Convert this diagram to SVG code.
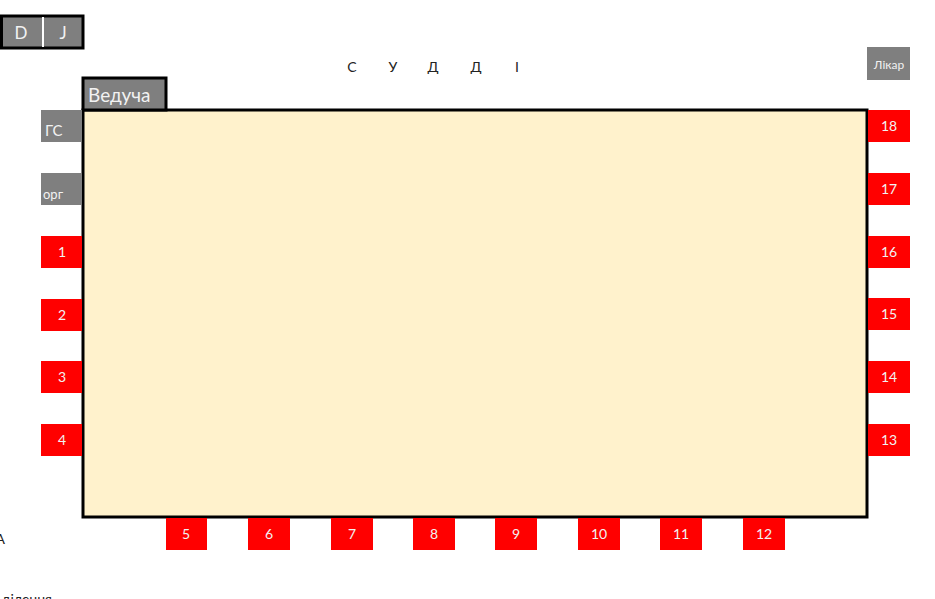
<svg xmlns="http://www.w3.org/2000/svg" width="935" height="599" viewBox="0 0 935 599">
<style>
text{font-family:Lato,"Open Sans","Liberation Sans",sans-serif}
.red{fill:#ff0000}
.gray{fill:#7f7f7f}
.num{fill:#f2f2f2;font-size:14px;text-anchor:middle}
.lbl{fill:#f2f2f2}
.ol{fill:none;stroke:#000;stroke-width:3}
.blk{fill:#222;font-size:14px}
</style>
<rect width="935" height="599" fill="#fff"/>
<g id="field">
<rect x="83" y="110" width="784" height="407" style="fill:#fff2cc;stroke:#000;stroke-width:3"/>
</g>
<g id="dj">
<rect x="1" y="16" width="82" height="32" class="gray"/>
<rect x="1.5" y="16" width="81.5" height="32" class="ol"/>
<line x1="43" y1="17" x2="43" y2="47" stroke="#fff" stroke-width="2"/>
<text x="21" y="39" class="lbl" font-size="17" text-anchor="middle">D</text>
<text x="63" y="39" class="lbl" font-size="17" text-anchor="middle">J</text>
</g>
<g id="vedycha">
<rect x="83" y="78" width="83" height="32" class="gray"/>
<rect x="83" y="78" width="83" height="32" class="ol"/>
<text x="88" y="102" class="lbl" font-size="19">Ведуча</text>
</g>
<g id="suddi">
<text x="352" y="72" class="blk" text-anchor="middle">С</text>
<text x="393" y="72" class="blk" text-anchor="middle">У</text>
<text x="433" y="72" class="blk" text-anchor="middle">Д</text>
<text x="476" y="72" class="blk" text-anchor="middle">Д</text>
<text x="517" y="72" class="blk" text-anchor="middle">І</text>
</g>
<g id="likar">
<rect x="867" y="47" width="43" height="33" class="gray"/>
<text x="889" y="69" class="lbl" font-size="12" text-anchor="middle">Лікар</text>
</g>
<g id="gs">
<rect x="41" y="110" width="41" height="32" class="gray"/>
<text x="45" y="136" class="lbl" font-size="15">ГС</text>
</g>
<g id="org">
<rect x="41" y="173" width="41" height="32" class="gray"/>
<text x="43" y="199" class="lbl" font-size="13">орг</text>
</g>
<g id="s1"><rect x="41" y="236" width="41" height="32" class="red"/><text x="62" y="257" class="num">1</text></g>
<g id="s2"><rect x="41" y="299" width="41" height="32" class="red"/><text x="62" y="320" class="num">2</text></g>
<g id="s3"><rect x="41" y="361" width="41" height="32" class="red"/><text x="62" y="382" class="num">3</text></g>
<g id="s4"><rect x="41" y="424" width="41" height="32" class="red"/><text x="62" y="445" class="num">4</text></g>
<g id="s5"><rect x="166" y="518" width="41" height="32" class="red"/><text x="186" y="539" class="num">5</text></g>
<g id="s6"><rect x="248" y="518" width="42" height="32" class="red"/><text x="269" y="539" class="num">6</text></g>
<g id="s7"><rect x="331" y="518" width="42" height="32" class="red"/><text x="352" y="539" class="num">7</text></g>
<g id="s8"><rect x="413" y="518" width="42" height="32" class="red"/><text x="434" y="539" class="num">8</text></g>
<g id="s9"><rect x="495" y="518" width="42" height="32" class="red"/><text x="516" y="539" class="num">9</text></g>
<g id="s10"><rect x="578" y="518" width="42" height="32" class="red"/><text x="599" y="539" class="num">10</text></g>
<g id="s11"><rect x="660" y="518" width="42" height="32" class="red"/><text x="681" y="539" class="num">11</text></g>
<g id="s12"><rect x="743" y="518" width="42" height="32" class="red"/><text x="764" y="539" class="num">12</text></g>
<g id="s13"><rect x="868" y="424" width="42" height="32" class="red"/><text x="889" y="445" class="num">13</text></g>
<g id="s14"><rect x="868" y="361" width="42" height="32" class="red"/><text x="889" y="382" class="num">14</text></g>
<g id="s15"><rect x="868" y="298" width="42" height="32" class="red"/><text x="889" y="319" class="num">15</text></g>
<g id="s16"><rect x="868" y="236" width="42" height="32" class="red"/><text x="889" y="257" class="num">16</text></g>
<g id="s17"><rect x="868" y="173" width="42" height="32" class="red"/><text x="889" y="194" class="num">17</text></g>
<g id="s18"><rect x="868" y="110" width="42" height="32" class="red"/><text x="889" y="131" class="num">18</text></g>
<g id="edge-text">
<text x="5" y="544" class="blk" text-anchor="end">А</text>
<text x="52" y="604" class="blk" text-anchor="end">ділення</text>
</g>
<g id="connectors"/>
</svg>
